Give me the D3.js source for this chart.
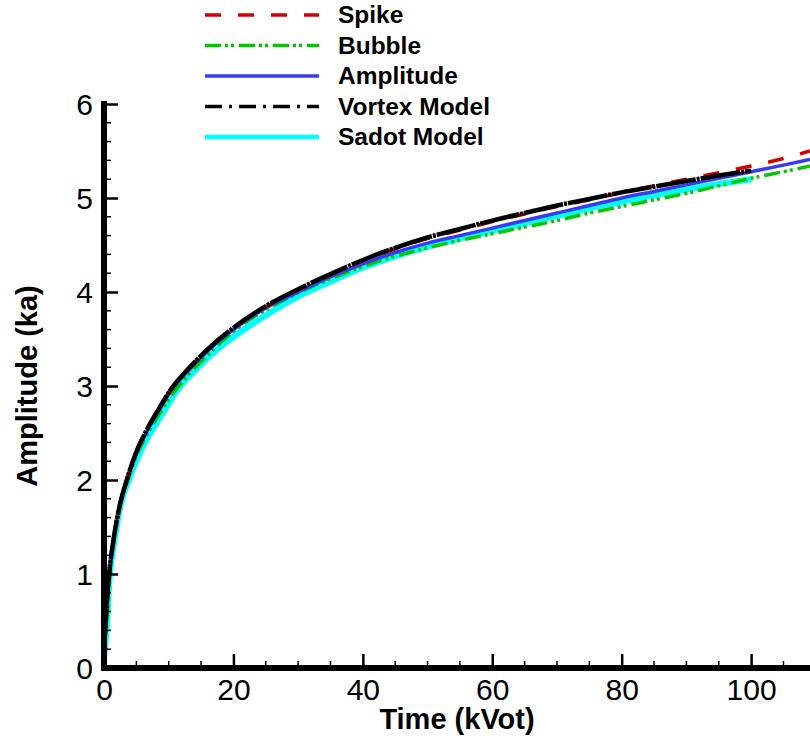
<!DOCTYPE html>
<html><head><meta charset="utf-8">
<script src="https://cdn.jsdelivr.net/npm/d3@7"></script>
<style>body{margin:0;background:#fff}svg{display:block}</style>
</head><body>
<svg id="chart" width="810" height="742"></svg>
<script>
// ---- data ----
const seriesNames = ["Spike","Bubble","Amplitude","Vortex Model","Sadot Model"];
const xTicks = [0,20,40,60,80,100];
const yTicks = [0,1,2,3,4,5,6];
const spikeT = [0,0.3,0.8,1.5,2.4,3.6,5,6.5,8.5,10.5,13,16,20,25,30,35,40,45,50,55,60,65,70,75,80,85,90,95,100,105,109.1];
const spikeA = [0.2,0.55,1.0,1.38,1.72,2.02,2.3,2.52,2.76,2.98,3.18,3.39,3.62,3.84,4.02,4.18,4.33,4.46,4.57,4.66,4.75,4.83,4.91,4.98,5.06,5.13,5.2,5.27,5.34,5.42,5.5];
const bubbleT = [0,0.4,0.9,1.5,2.5,3.8,5.2,6.8,8.8,11,13.5,16.5,20,25,30,35,40,45,50,55,60,65,70,75,80,85,90,95,100,105,109.1];
const bubbleA = [0.15,0.45,1.0,1.33,1.72,2.02,2.29,2.5,2.73,2.95,3.15,3.36,3.58,3.81,3.99,4.14,4.27,4.38,4.47,4.55,4.62,4.69,4.76,4.84,4.91,4.98,5.05,5.13,5.21,5.28,5.34];
const ampT = [0,0.3,0.8,1.5,2.4,3.6,5,6.5,8.5,10.5,13,16,20,25,30,35,40,45,50,55,60,65,70,75,80,85,90,95,100,105,109.1];
const ampA = [0.2,0.54,0.99,1.37,1.71,2.0,2.28,2.5,2.74,2.96,3.16,3.37,3.6,3.83,4.0,4.16,4.3,4.42,4.52,4.6,4.68,4.76,4.84,4.92,5.0,5.07,5.14,5.21,5.28,5.35,5.41];
const vortexT = [0,0.3,0.8,1.5,2.4,3.6,5,6.5,8.5,10.5,13,16,20,25,30,35,40,45,50,55,60,65,70,75,80,85,90,95,100];
const vortexA = [0.2,0.55,1.0,1.38,1.72,2.02,2.3,2.52,2.76,2.98,3.18,3.39,3.62,3.85,4.03,4.19,4.34,4.47,4.58,4.67,4.76,4.84,4.92,4.99,5.06,5.12,5.18,5.24,5.29];
const sadotT = [0,0.4,0.9,1.5,2.6,4,5.5,7,9,11.5,14,17,21,25,30,35,40,45,50,55,60,65,70,75,80,85,90,95,100];
const sadotA = [0.1,0.42,0.99,1.3,1.74,2.03,2.28,2.48,2.7,2.97,3.16,3.36,3.57,3.75,3.95,4.11,4.26,4.38,4.48,4.57,4.65,4.73,4.81,4.89,4.96,5.03,5.09,5.15,5.2];

const series = [
  {name:"Sadot Model", t:sadotT, a:sadotA, color:"#00ffff", width:6, dash:null, legDash:null},
  {name:"Bubble", t:bubbleT, a:bubbleA, color:"#00c800", width:3.5, dash:"16,4,3,3,3,5", legDash:"16,4,3,3,3,5"},
  {name:"Amplitude", t:ampT, a:ampA, color:"#3a3af5", width:3.5, dash:null, legDash:null},
  {name:"Spike", t:spikeT, a:spikeA, color:"#d40000", width:3.5, dash:"16,17", legDash:"16,17"},
  {name:"Vortex Model", t:vortexT, a:vortexA, color:"#000000", width:4.5, dash:"40,1,3,1", legDash:"17,7,3,7"}
];

const svg = d3.select("#chart");
const x = d3.scaleLinear().domain([0,109.1]).range([104,810]);
const y = d3.scaleLinear().domain([0,6]).range([668,104]);

// curves
const line = d3.line().x(d=>x(d[0])).y(d=>y(d[1])).curve(d3.curveMonotoneX);
series.forEach(s=>{
  const pts = s.t.map((t,i)=>[t,s.a[i]]);
  svg.append("path").attr("d",line(pts)).attr("fill","none")
    .attr("stroke",s.color).attr("stroke-width",s.width)
    .attr("stroke-dasharray",s.dash).attr("stroke-linejoin","round");
});

// axes
const font = "'Liberation Sans', Arial, Helvetica, sans-serif";
const gx = svg.append("g").attr("transform","translate(0,668)");
const xAxis = d3.axisTop(x).tickValues(xTicks).tickSize(14).tickFormat(d3.format("d"));
gx.call(xAxis);
gx.selectAll(".tick line").attr("stroke","#000").attr("stroke-width",2.5);
gx.selectAll(".tick text").attr("y",32).attr("font-size",30).attr("font-family",font).attr("fill","#000").attr("dy",null);
gx.select(".domain").remove();
const xMinor = d3.range(0,110,5).filter(v=>v%20!==0);
gx.selectAll(".mx").data(xMinor).enter().append("line")
  .attr("x1",d=>x(d)).attr("x2",d=>x(d)).attr("y1",0).attr("y2",-7)
  .attr("stroke","#000").attr("stroke-width",1.5);

const gy = svg.append("g").attr("transform","translate(104,0)");
const yAxis = d3.axisRight(y).tickValues(yTicks).tickSize(14).tickFormat(d3.format("d"));
gy.call(yAxis);
gy.selectAll(".tick line").attr("stroke","#000").attr("stroke-width",2.5);
gy.selectAll(".tick text").attr("x",-11).attr("text-anchor","end").attr("dy","0.36em")
  .attr("font-size",30).attr("font-family",font).attr("fill","#000");
gy.select(".domain").remove();
const yMinor = d3.range(0,6.01,0.2).map(v=>+v.toFixed(1)).filter(v=>Math.abs(v-Math.round(v))>1e-6);
gy.selectAll(".my").data(yMinor).enter().append("line")
  .attr("x1",0).attr("x2",7).attr("y1",d=>y(d)).attr("y2",d=>y(d))
  .attr("stroke","#000").attr("stroke-width",1.5);

// axis lines
svg.append("line").attr("x1",104).attr("x2",104).attr("y1",101).attr("y2",671).attr("stroke","#000").attr("stroke-width",6);
svg.append("line").attr("x1",101).attr("x2",810).attr("y1",668).attr("y2",668).attr("stroke","#000").attr("stroke-width",6);

// axis titles
svg.append("text").attr("x",457).attr("y",729).attr("text-anchor","middle")
  .attr("font-family",font).attr("font-weight","bold").attr("font-size",29).text("Time (kVot)");
svg.append("text").attr("transform","translate(37,386) rotate(-90)").attr("text-anchor","middle")
  .attr("font-family",font).attr("font-weight","bold").attr("font-size",29).text("Amplitude (ka)");

// legend
const legOrder = seriesNames.map(n=>series.find(s=>s.name===n));
const lg = svg.append("g");
legOrder.forEach((s,i)=>{
  const ly = 15 + i*30.5;
  lg.append("line").attr("x1",205).attr("x2",319).attr("y1",ly).attr("y2",ly)
    .attr("stroke",s.color).attr("stroke-width",s.name==="Sadot Model"?4.5:3.5)
    .attr("stroke-dasharray",s.legDash);
  lg.append("text").attr("x",338).attr("y",ly+8).attr("font-family",font)
    .attr("font-weight","bold").attr("font-size",24.5).text(s.name);
});
</script>
</body></html>
